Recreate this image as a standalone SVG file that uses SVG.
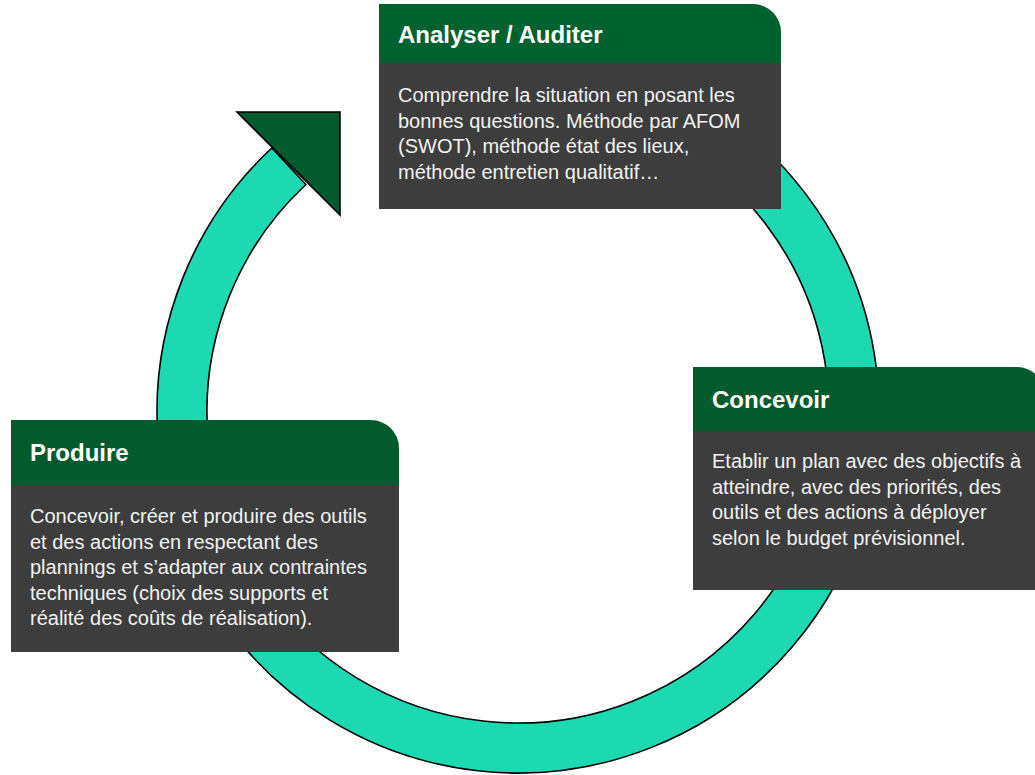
<svg xmlns="http://www.w3.org/2000/svg" width="1035" height="775" viewBox="0 0 1035 775">
<style>
.ring{fill:#1dd9b1;stroke:#000;stroke-width:1.6}
.head{fill:#035a2d}
.body{fill:#3d3d3d}
.title{font-family:"Liberation Sans",Arial,sans-serif;font-weight:bold;font-size:24px;fill:#ffffff}
.txt{font-family:"Liberation Sans",Arial,sans-serif;font-size:20px;fill:#f2f2f2}
</style>
<rect width="1035" height="775" fill="#ffffff"/>
<g id="connectors">
<path class="ring" d="M518,51 A361,361 0 1 1 271.8,148 L305.9,184.5 A311,311 0 1 0 518,101 Z"/>
<polygon points="237,112 340,112 340,215" fill="#035a2d" stroke="#000" stroke-width="1.6" stroke-linejoin="miter"/>
</g>
<g id="node-analyser">
<path class="head" style="fill:#00622f" d="M379,4 H753 A28,28 0 0 1 781,32 V63 H379 Z"/>
<rect class="body" x="379" y="63" width="402" height="146"/>
<text class="title" x="398" y="43">Analyser / Auditer</text>
<text class="txt" x="398" y="102">Comprendre la situation en posant les</text>
<text class="txt" x="398" y="127.5">bonnes questions. Méthode par AFOM</text>
<text class="txt" x="398" y="153">(SWOT), méthode état des lieux,</text>
<text class="txt" x="398" y="178.5">méthode entretien qualitatif…</text>
</g>
<g id="node-concevoir">
<path class="head" d="M693,367 H1017 A28,28 0 0 1 1045,395 V431 H693 Z"/>
<rect class="body" x="693" y="431" width="352" height="159"/>
<text class="title" x="712" y="408">Concevoir</text>
<text class="txt" x="712" y="468">Etablir un plan avec des objectifs à</text>
<text class="txt" x="712" y="493.5">atteindre, avec des priorités, des</text>
<text class="txt" x="712" y="519">outils et des actions à déployer</text>
<text class="txt" x="712" y="544.5">selon le budget prévisionnel.</text>
</g>
<g id="node-produire">
<path class="head" d="M11,420 H371 A28,28 0 0 1 399,448 V485 H11 Z"/>
<rect class="body" x="11" y="485" width="388" height="167"/>
<text class="title" x="30" y="461">Produire</text>
<text class="txt" x="30" y="523">Concevoir, créer et produire des outils</text>
<text class="txt" x="30" y="548.5">et des actions en respectant des</text>
<text class="txt" x="30" y="574">plannings et s’adapter aux contraintes</text>
<text class="txt" x="30" y="599.5">techniques (choix des supports et</text>
<text class="txt" x="30" y="625">réalité des coûts de réalisation).</text>
</g>
</svg>
